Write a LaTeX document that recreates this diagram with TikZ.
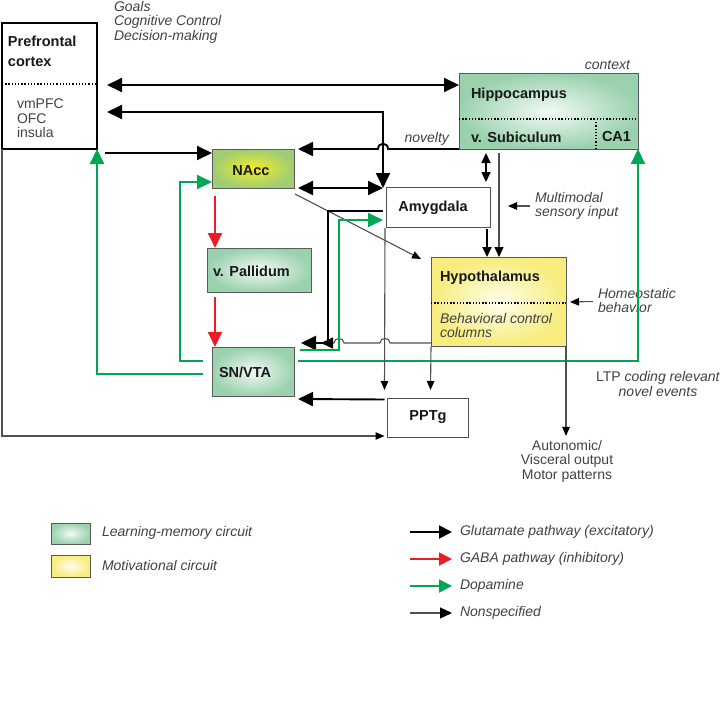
\documentclass[tikz,border=0pt]{standalone}
\usepackage{fontspec}
\setmainfont{Liberation Sans}
\usetikzlibrary{arrows.meta,calc}
\definecolor{dgreen}{RGB}{0,166,81}
\definecolor{dred}{RGB}{237,28,36}
\definecolor{lgray}{RGB}{80,80,80}
\definecolor{tgray}{RGB}{65,65,65}
\definecolor{gout}{RGB}{155,210,174}
\definecolor{gin}{RGB}{242,250,245}
\definecolor{yout}{RGB}{247,236,125}
\definecolor{yin}{RGB}{255,255,236}
\definecolor{nout}{RGB}{160,205,115}
\definecolor{nin}{RGB}{242,236,40}
\definecolor{bord}{RGB}{90,90,90}
\begin{document}
\begin{tikzpicture}[x=1pt,y=-1pt,
  every node/.style={inner sep=0pt, outer sep=0pt},
  blab/.style={font=\fontsize{14.5}{20}\selectfont\bfseries, text=black!90, align=left},
  itext/.style={font=\fontsize{14}{14.5}\selectfont\itshape, text=tgray, align=left},
  ptext/.style={font=\fontsize{14}{14.5}\selectfont, text=tgray, align=left},
  gbox/.style={draw=bord, line width=1pt, inner color=gin, outer color=gout},
  ybox/.style={draw=bord, line width=1pt, inner color=yin, outer color=yout},
  wbox/.style={draw=lgray, line width=1pt, fill=white},
  glu/.style={draw=black, line width=1.9pt, >={Triangle[length=15pt,width=14pt]}},
  glus/.style={draw=black, line width=1.7pt, >={Triangle[length=10pt,width=9pt]}},
  gaba/.style={draw=dred, line width=1.9pt, >={Triangle[length=15pt,width=14pt]}},
  dopa/.style={draw=dgreen, line width=1.9pt, >={Triangle[length=15pt,width=14pt]}},
  nons/.style={draw=lgray, line width=1.1pt, >={Triangle[length=9pt,width=7.5pt,color=black]}},
  dotline/.style={draw=black, line width=1.3pt, dash pattern=on 1.3pt off 1.9pt},
]
\useasboundingbox (0,0) rectangle (721,709);

% ---------- boxes ----------
\node[draw=black, line width=1.9pt, minimum width=95pt, minimum height=126pt] (pfc) at (49.5,86) {};
\node[gbox, minimum width=179pt, minimum height=75pt] (hip) at (548.5,111.5) {};
\node[draw=bord, line width=1pt, inner color=nin, outer color=nout, minimum width=82pt, minimum height=39pt] (nacc) at (253,168.5) {};
\node[wbox, minimum width=104pt, minimum height=40pt] (amy) at (438,207) {};
\node[gbox, minimum width=104pt, minimum height=44pt] (vp) at (259,270) {};
\node[ybox, minimum width=135pt, minimum height=89pt] (hyp) at (498.5,301.5) {};
\node[gbox, minimum width=82pt, minimum height=49pt] (sn) at (253,371.5) {};
\node[wbox, minimum width=81pt, minimum height=39pt] (pptg) at (428,417.5) {};

% dotted dividers
\draw[dotline] (pfc.west |- 0,84) -- (pfc.east |- 0,84);
\draw[dotline] (hip.west |- 0,119) -- (hip.east |- 0,119);
\draw[dotline] (596,119 |- hip.south) -- (596,121);
\draw[dotline] (hyp.west |- 0,303) -- (hyp.east |- 0,303);

% ---------- text labels ----------
\node[itext, anchor=west] (goals) at (114,22) {Goals\\Cognitive Control\\Decision-making};
\node[blab, anchor=west] (pfct) at (8,51) {Prefrontal\\cortex};
\node[ptext, anchor=west] (pfcsub) at (17,118.5) {vmPFC\\OFC\\insula};
\node[blab, anchor=west] (hipt) at (471,95) {Hippocampus};
\node[blab, anchor=west] (subt) at (471,137) {v. Subiculum};
\node[blab, anchor=west] (ca1t) at (602,137) {CA1};
\node[itext, anchor=east] (ctx) at (630,65) {context};
\node[itext, anchor=east] (nov) at (449,139) {novelty};
\node[blab] (nacct) at (251,171) {NAcc};
\node[blab] (amyt) at (433,208) {Amygdala};
\node[blab, anchor=west] (vpt) at (213,271) {v. Pallidum};
\node[blab, anchor=west] (snt) at (219,372) {SN/VTA};
\node[blab] (pptgt) at (428,417) {PPTg};
\node[blab, anchor=west] (hypt) at (440,278) {Hypothalamus};
\node[itext, anchor=west] (bcc) at (440,325.5) {Behavioral control\\columns};
\node[itext, anchor=west] (homeo) at (598,300.5) {Homeostatic\\behavior};
\node[itext, anchor=west] (mm) at (535,206) {Multimodal\\sensory input};
\node[ptext, align=center] (ltp) at (658,384) {LTP \textit{coding relevant}\\\textit{novel events}};
\node[ptext, align=center] (out) at (567,461) {Autonomic/\\Visceral output\\Motor patterns};

% ---------- connectors ----------
% PFC <-> Hippocampus
\draw[glu,<->] ($(pfc.east |- 0,85)+(10,0)$) -- (hip.west |- 0,85);
% Amygdala <-> PFC
\draw[glu,<->] ($(amy.north west)+(-3,1)$) |- ($(pfc.east |- 0,112)+(10,0)$);
% Hippocampus (novelty) -> NAcc
\draw[glu,->] (hip.south west) -- (388,149) .. controls (388,142) and (378,142) .. (378,149) -- ($(nacc.north east)+(4,0)$);
% PFC -> NAcc
\draw[glu,->] ($(pfc.east |- 0,153)+(8,0)$) -- (nacc.west |- 0,153);
% NAcc <-> Amygdala
\draw[glu,<->] ($(nacc.south east)+(4,0)$) -- ($(nacc.south east -| amy.west)+(-3,0)$);
% Hippocampus <-> Amygdala
\draw[glus,<->] ($(hip.south west)+(27,4)$) -- ($(amy.north west)+(100,-5)$);
% Amygdala -> Hypothalamus
\draw[glus,->] ($(amy.south -| 487,0)+(0,2)$) -- (hyp.north -| 487,0);
% Hippocampus -> Hypothalamus
\draw[nons,->,>={Triangle[length=10pt,width=9pt,color=black]}] ($(hip.south -| 499,0)+(0,4)$) -- (hyp.north -| 499,0);
% multimodal input
\draw[nons,->] ($(mm.west)+(-5,0)$) -- ($(amy.east)+(18,-1)$);
% NAcc -> Hypothalamus
\draw[nons,->] ($(nacc.south east)+(1,6)$) -- ($(hyp.north west)+(-10,2)$);
% Amygdala -> SN/VTA
\draw[glu,->] ($(amy.west)+(-3,4)$) -| ($(sn.north east)+(34,-4)$) -- ($(sn.north east)+(7,-4)$);
% Hypothalamus -> SN/VTA (nonspecified, with hops)
\draw[nons,->,>={Triangle[length=12pt,width=11pt,color=black]}] ($(hyp.south west)+(0,-3)$) -- (390,343) .. controls (390,337) and (380,337) .. (380,343) -- (344,343) .. controls (344,337) and (334,337) .. (334,343) -- (321,343);
% SN/VTA -> Amygdala (dopamine)
\draw[dopa,->] ($(sn.north east)+(6,3)$) -| (339,220) -- ($(amy.west)+(-3,13)$);
% SN/VTA -> NAcc (dopamine)
\draw[dopa,->] ($(sn.west)+(-9,-10.5)$) -- (180,361) -- (180,182) -- (nacc.west |- 0,182);
% SN/VTA -> PFC (dopamine)
\draw[dopa,->] ($(sn.west)+(-9,2.5)$) -| (pfc.south east);
% SN/VTA -> CA1 (dopamine)
\draw[dopa,->] ($(sn.east)+(4,-10.5)$) -| (hip.south east);
% NAcc -> v. Pallidum, v. Pallidum -> SN/VTA (GABA)
\draw[gaba,->] ($(nacc.south west)+(3,8)$) -- (215,0 |- vp.north);
\draw[gaba,->] ($(vp.south -| 215,0)+(0,5)$) -- (215,0 |- sn.north);
% PPTg -> SN/VTA
\draw[glu,->] ($(pptg.north west)+(-3,1.5)$) -- ($(sn.south east)+(4,3)$);
% Amygdala -> PPTg
\draw[nons,->] ($(amy.south west)+(-1,1)$) -- ($(pptg.north west)+(-3,-8)$);
% Hypothalamus -> PPTg
\draw[nons,->] ($(hyp.south west)+(0,1)$) -- ($(pptg.north east)+(-38,-8)$);
% Hypothalamus -> output
\draw[nons,->] (hyp.south east) -- ($(hyp.south east |- out.north)+(0,-4)$);
% PFC -> PPTg
\draw[nons,->] (pfc.south west) -- (pfc.south west |- 0,436) -- ($(pptg.west |- 0,436)+(-3,0)$);
% Homeostatic behavior
\draw[nons,->] ($(homeo.west)+(-5,1)$) -- ($(hyp.east)+(4,0.5)$);

% ---------- legend ----------
\node[gbox, minimum width=39pt, minimum height=21pt] (lg1) at (70.5,533.5) {};
\node[ybox, minimum width=39pt, minimum height=22pt] (lg2) at (70.5,566) {};
\node[itext, anchor=west] (lg1t) at (102,533) {Learning-memory circuit};
\node[itext, anchor=west] (lg2t) at (102,565) {Motivational circuit};
\node[itext, anchor=west] (lg3t) at (460,532) {Glutamate pathway (excitatory)};
\node[itext, anchor=west] (lg4t) at (460,559) {GABA pathway (inhibitory)};
\node[itext, anchor=west] (lg5t) at (460,586) {Dopamine};
\node[itext, anchor=west] (lg6t) at (460,613) {Nonspecified};
\draw[glu,->,>={Triangle[length=13pt,width=13pt]}] ($(lg3t.west)+(-50,0)$) -- ($(lg3t.west)+(-8,0)$);
\draw[gaba,->,>={Triangle[length=13pt,width=13pt]}] ($(lg4t.west)+(-50,0)$) -- ($(lg4t.west)+(-8,0)$);
\draw[dopa,->,>={Triangle[length=13pt,width=13pt]}] ($(lg5t.west)+(-50,0)$) -- ($(lg5t.west)+(-8,0)$);
\draw[nons,->,>={Triangle[length=12pt,width=11pt,color=black]}] ($(lg6t.west)+(-50,0)$) -- ($(lg6t.west)+(-8,0)$);
\end{tikzpicture}
\end{document}
